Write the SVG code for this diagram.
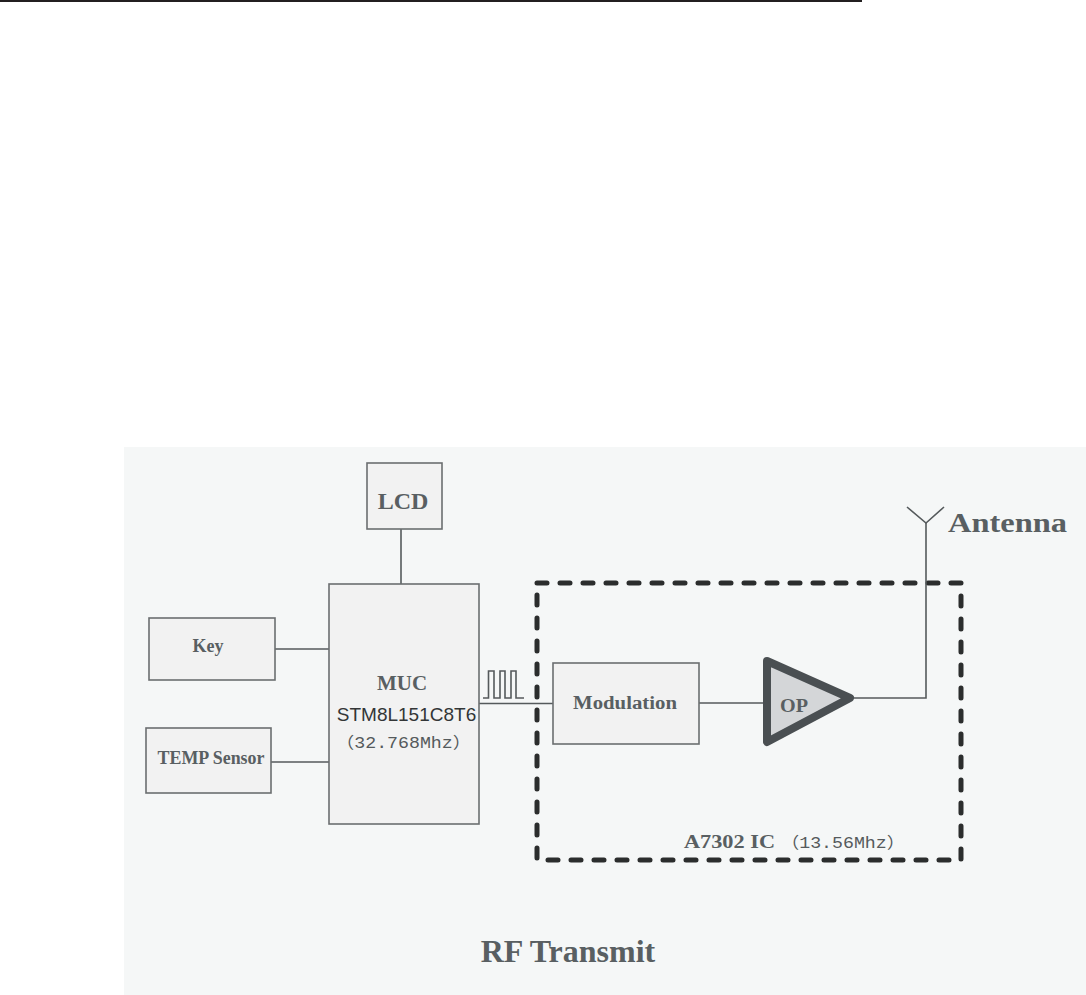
<svg xmlns="http://www.w3.org/2000/svg" width="1086" height="995" viewBox="0 0 1086 995">
  <style>
    .box { fill: #f2f2f2; stroke: #6b6e70; stroke-width: 1.6; }
    .lbl { font-family: "Liberation Serif", "Times New Roman", serif; font-weight: bold; fill: #595f62; text-anchor: middle; }
    .lbl.start { text-anchor: start; }
    .wire { fill: none; stroke: #555a5c; stroke-width: 1.6; }
    .mono { font-family: "Liberation Mono", "Noto Sans CJK SC", monospace; fill: #555a5c; }
  </style>
  <rect x="0" y="0" width="1086" height="995" fill="#ffffff"/>
  <line x1="0" y1="1" x2="862" y2="1" stroke="#231f20" stroke-width="2"/>
  <rect id="panel" x="124" y="447" width="962" height="548" fill="#f5f7f7"/>

  <g id="ic-boundary">
    <rect x="537" y="583" width="424" height="277" fill="none" stroke="#2b2d2d" stroke-width="5" stroke-dasharray="10 13" stroke-linecap="round" stroke-linejoin="round"/>
    <text class="lbl start" x="684" y="848" font-size="18" textLength="91" lengthAdjust="spacingAndGlyphs">A7302 IC</text>
    <text class="mono" x="781" y="848" font-size="16" textLength="124" lengthAdjust="spacingAndGlyphs">（13.56Mhz）</text>
  </g>

  <g id="connectors">
    <line class="wire" x1="401" y1="529" x2="401" y2="584"/>
    <line class="wire" x1="275" y1="649" x2="329" y2="649"/>
    <line class="wire" x1="271" y1="762" x2="329" y2="762"/>
    <line class="wire" x1="477" y1="703.5" x2="557" y2="703.5"/>
    <polyline class="wire" points="483,698 488.5,698 488.5,671 494,671 494,698 500,698 500,671 505,671 505,698 511,698 511,671 516,671 516,698 524,698" stroke-width="1.4"/>
    <line class="wire" x1="699" y1="703" x2="764" y2="703"/>
    <polyline class="wire" points="853,698 926,698 926,523"/>
  </g>

  <g id="antenna">
    <polyline class="wire" points="907,507 926,523 944,507"/>
    <text class="lbl start" x="948" y="532" font-size="27" textLength="119" lengthAdjust="spacingAndGlyphs">Antenna</text>
  </g>

  <g id="lcd">
    <rect class="box" x="367" y="463" width="75" height="66"/>
    <text class="lbl" x="403" y="509" font-size="24">LCD</text>
  </g>

  <g id="key">
    <rect class="box" x="149" y="618" width="126" height="62"/>
    <text class="lbl" x="208" y="652" font-size="18">Key</text>
  </g>

  <g id="temp-sensor">
    <rect class="box" x="146" y="728" width="125" height="65"/>
    <text class="lbl" x="211" y="764" font-size="18" textLength="107" lengthAdjust="spacingAndGlyphs">TEMP Sensor</text>
  </g>

  <g id="muc">
    <rect class="box" x="329" y="584" width="150" height="240"/>
    <text class="lbl" x="402" y="690" font-size="21">MUC</text>
    <text x="406.5" y="721" font-size="19" font-family="Liberation Sans, Arial, sans-serif" fill="#333637" text-anchor="middle">STM8L151C8T6</text>
    <text class="mono" x="336" y="748" font-size="16" textLength="135" lengthAdjust="spacingAndGlyphs">（32.768Mhz）</text>
  </g>

  <g id="modulation">
    <rect class="box" x="553" y="663" width="146" height="81"/>
    <text class="lbl" x="625" y="709" font-size="18" textLength="104" lengthAdjust="spacingAndGlyphs">Modulation</text>
  </g>

  <g id="op">
    <polygon points="767,661 850,698 767,742" fill="#d4d6d8" stroke="#4a4f52" stroke-width="8" stroke-linejoin="round"/>
    <text class="lbl start" x="780" y="712" font-size="19" textLength="28" lengthAdjust="spacingAndGlyphs">OP</text>
  </g>

  <g id="title">
    <text class="lbl" x="568" y="962" font-size="32">RF Transmit</text>
  </g>
</svg>
